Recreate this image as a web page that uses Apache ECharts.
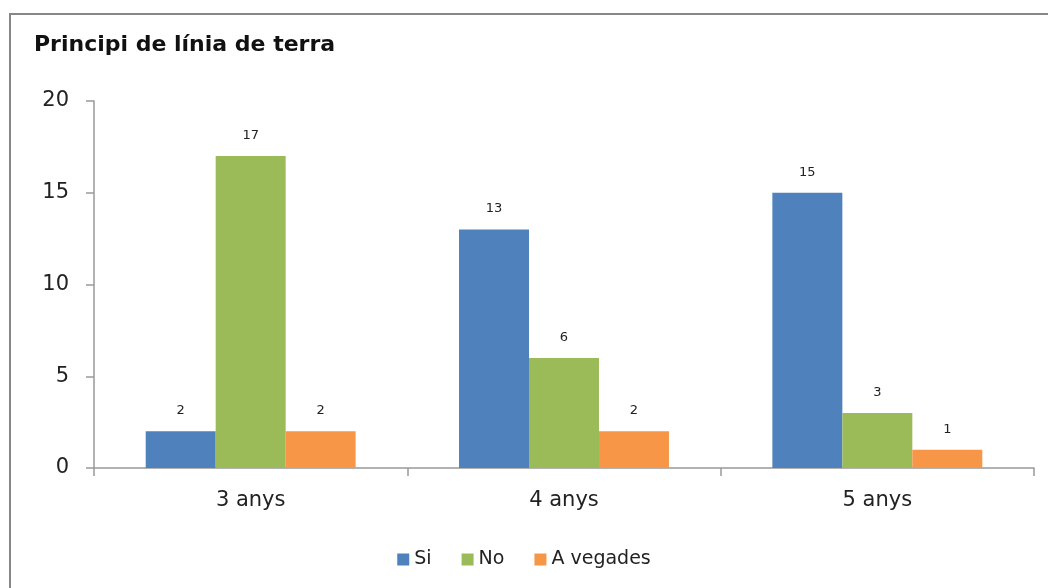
<!DOCTYPE html>
<html>
<head>
<meta charset="utf-8">
<script src="https://cdn.jsdelivr.net/npm/echarts@6/dist/echarts.min.js"></script>
<style>
  html, body { margin: 0; padding: 0; background: #fff; }
  #chart { width: 1048px; height: 588px; }
</style>
</head>
<body>
<div id="chart"></div>
<script>
const categories = ['3 anys', '4 anys', '5 anys'];
const si = [2, 13, 15];
const no = [17, 6, 3];
const aVegades = [2, 2, 1];
const yTicks = { min: 0, max: 20, interval: 5 };

const chart = echarts.init(document.getElementById('chart'));
const font = '"DejaVu Sans", "Noto Sans", sans-serif';

const barLabel = { show: true, position: 'top', distance: 14, color: '#222', fontSize: 13, fontFamily: font };

chart.setOption({
  animation: false,
  textStyle: { fontFamily: font },
  title: {
    text: 'Principi de línia de terra',
    left: 29, top: 29,
    textStyle: { fontSize: 22, fontWeight: 'bold', color: '#111', fontFamily: font }
  },
  graphic: [{
    type: 'rect',
    shape: { x: 10, y: 14, width: 1100, height: 620 },
    style: { fill: 'none', stroke: '#878787', lineWidth: 2 },
    silent: true
  }],
  legend: {
    bottom: 14, left: 'center',
    itemWidth: 12, itemHeight: 12, itemGap: 30,
    icon: 'rect',
    textStyle: { fontSize: 19, color: '#222', fontFamily: font },
    data: ['Si', 'No', 'A vegades']
  },
  grid: { left: 94, right: 14, top: 101, bottom: 120 },
  xAxis: {
    type: 'category',
    data: categories,
    axisLine: { lineStyle: { color: '#999', width: 1.5 } },
    axisTick: { show: true, length: 8, lineStyle: { color: '#999', width: 1.5 } },
    axisLabel: { fontSize: 21, color: '#222', margin: 22, fontFamily: font }
  },
  yAxis: {
    type: 'value',
    min: yTicks.min, max: yTicks.max, interval: yTicks.interval,
    axisLine: { show: true, lineStyle: { color: '#999', width: 1.5 } },
    axisTick: { show: true, length: 8, lineStyle: { color: '#999', width: 1.5 } },
    splitLine: { show: false },
    axisLabel: { fontSize: 21, color: '#222', margin: 25, fontFamily: font }
  },
  series: [
    { name: 'Si', type: 'bar', data: si, itemStyle: { color: '#4F81BD' }, label: barLabel,
      barGap: '0%', barCategoryGap: '33%' },
    { name: 'No', type: 'bar', data: no, itemStyle: { color: '#9BBB59' }, label: barLabel },
    { name: 'A vegades', type: 'bar', data: aVegades, itemStyle: { color: '#F79646' }, label: barLabel }
  ]
});
</script>
</body>
</html>
